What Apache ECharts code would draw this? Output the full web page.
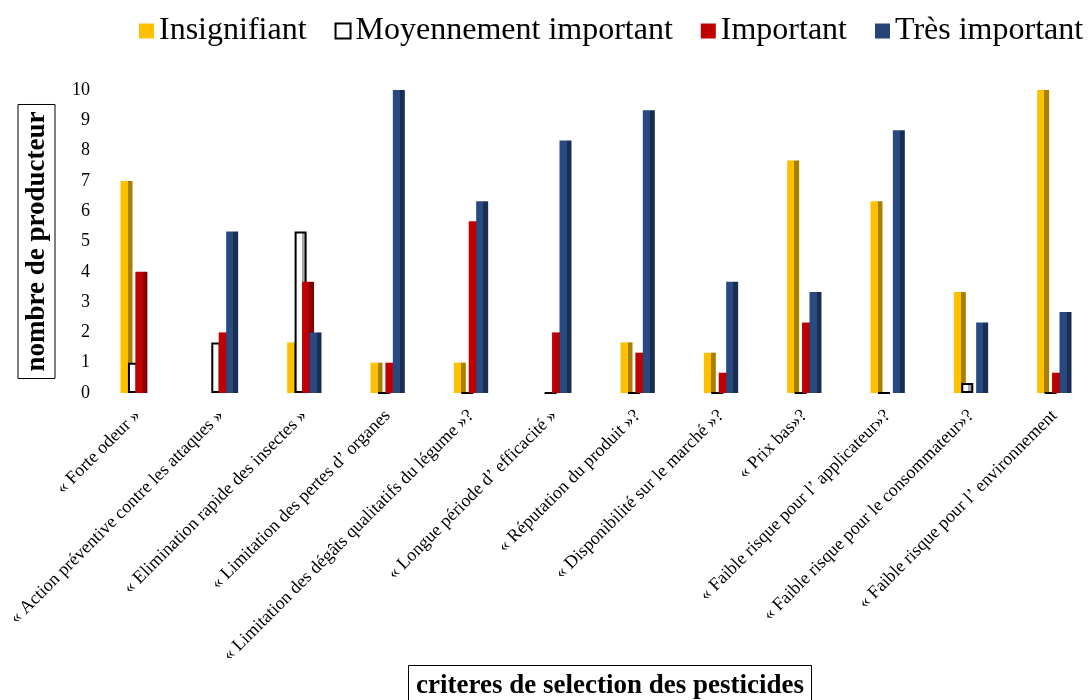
<!DOCTYPE html>
<html>
<head>
<meta charset="utf-8">
<script src="https://cdn.jsdelivr.net/npm/echarts@6/dist/echarts.min.js"></script>
<style>
  html, body { margin: 0; padding: 0; background: #fff; }
  #chart { width: 1089px; height: 700px; }
</style>
</head>
<body>
<div id="chart"></div>
<script>
// Criteria for choosing a pesticide, counted per importance level
const categories = [
  '« Forte odeur »',
  '« Action préventive contre les attaques »',
  '« Elimination rapide des insectes »',
  '« Limitation des pertes d\u2019 organes',
  '« Limitation des dégâts qualitatifs du légume »?',
  '« Longue période d\u2019 efficacité »',
  '« Réputation du produit »?',
  '« Disponibilité sur le marché »?',
  '« Prix bas»?',
  '« Faible risque pour l\u2019 applicateur»?',
  '« Faible risque pour le consommateur»?',
  '« Faible risque pour l\u2019 environnement'
];
const seriesNames = ['Insignifiant', 'Moyennement important', 'Important', 'Très important'];
const insignifiant = [7, 0, 1.67, 1, 1, 0, 1.67, 1.33, 7.67, 6.33, 3.33, 10];
const moyennement  = [1, 1.67, 5.33, 0, 0, 0, 0, 0, 0, 0, 0.33, 0];
const important    = [4, 2, 3.67, 1, 5.67, 2, 1.33, 0.67, 2.33, 0, 0, 0.67];
const tresImportant = [0, 5.33, 2, 10, 6.33, 8.33, 9.33, 3.67, 3.33, 8.67, 2.33, 2.67];
const yTicks = [0, 1, 2, 3, 4, 5, 6, 7, 8, 9, 10];

const SERIF = 'Liberation Serif, Times New Roman, serif';

// Two-tone fill giving each column a lit face and a shaded side
function shaded(light, dark) {
  return new echarts.graphic.LinearGradient(0, 0, 1, 0, [
    { offset: 0, color: light },
    { offset: 0.6, color: light },
    { offset: 0.6, color: dark },
    { offset: 1, color: dark }
  ]);
}

const styles = [
  { color: shaded('#FFC000', '#A88000') },
  { color: shaded('#FFFFFF', '#A8A8A8'), borderColor: '#000', borderWidth: 2 },
  { color: shaded('#C00000', '#820000') },
  { color: shaded('#294A80', '#1A2D52') }
];
const legendColors = [
  { color: '#FFC000' },
  { color: '#FFFFFF', borderColor: '#000', borderWidth: 2 },
  { color: '#C00000' },
  { color: '#264478' }
];
const values = [insignifiant, moyennement, important, tresImportant];

const chart = echarts.init(document.getElementById('chart'), null, { renderer: 'canvas' });
chart.setOption({
  animation: false,
  backgroundColor: '#fff',
  title: {
    text: 'criteres de selection des pesticides',
    left: 408,
    top: 665,
    padding: [8, 8, 6, 8],
    borderColor: '#000',
    borderWidth: 1,
    textStyle: { fontFamily: SERIF, fontSize: 27, fontWeight: 'bold', color: '#000' }
  },
  legend: {
    left: 139,
    top: 15,
    width: 1000,
    padding: 0,
    itemWidth: 15,
    itemHeight: 15,
    itemGap: 28,
    icon: 'rect',
    textStyle: { fontFamily: SERIF, fontSize: 32, color: '#000' },
    data: seriesNames.map((n, i) => ({ name: n, itemStyle: legendColors[i] }))
  },
  grid: {
    left: 96, top: 90, width: 1000, bottom: 307,
    containLabel: false,
    outerBoundsMode: 'none'
  },
  xAxis: {
    type: 'category',
    data: categories,
    axisLine: { show: false },
    axisTick: { show: false },
    axisLabel: {
      interval: 0,
      rotate: 45,
      margin: 20,
      fontFamily: SERIF,
      fontSize: 18,
      color: '#000'
    }
  },
  yAxis: {
    type: 'value',
    min: yTicks[0],
    max: yTicks[yTicks.length - 1],
    interval: 1,
    name: 'nombre de producteur',
    nameLocation: 'middle',
    nameRotate: 90,
    nameGap: 41,
    nameTextStyle: {
      fontFamily: SERIF, fontSize: 27, fontWeight: 'bold', color: '#000',
      borderColor: '#000', borderWidth: 1, padding: [6, 7, 4, 7]
    },
    axisLine: { show: false },
    axisTick: { show: false },
    splitLine: { show: false },
    axisLabel: { fontFamily: SERIF, fontSize: 18, color: '#000', margin: 6 }
  },
  series: seriesNames.map((n, i) => ({
    name: n,
    type: 'bar',
    data: values[i],
    barWidth: 12,
    barGap: '-38%',
    itemStyle: styles[i]
  }))
});
</script>
</body>
</html>
